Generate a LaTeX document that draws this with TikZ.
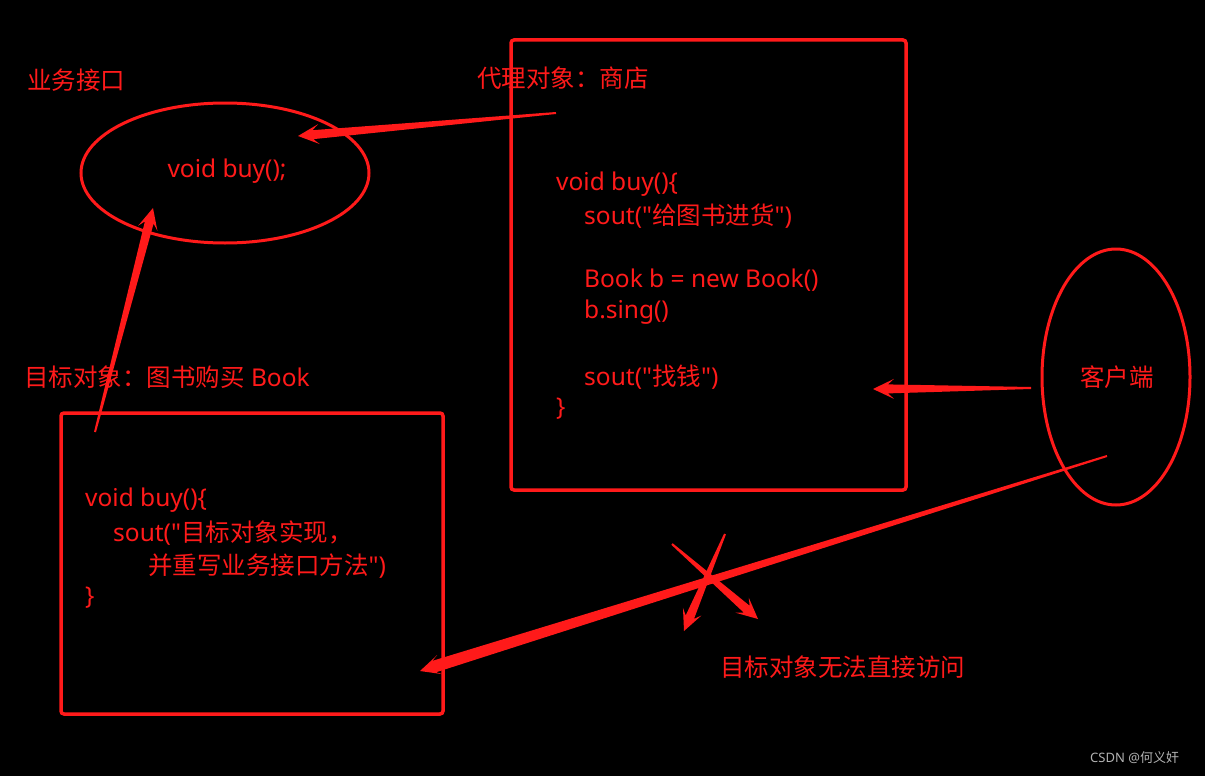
\documentclass[tikz,border=0pt]{standalone}
\usepackage{fontspec}
\setmainfont{Noto Sans}[Ligatures=TeXOff]
\newfontfamily\cjk{Noto Sans CJK SC}[Ligatures=TeXOff]
\newcommand{\zh}[1]{{\cjk #1}}
\usetikzlibrary{calc}
\definecolor{hotred}{RGB}{255,26,26}
\definecolor{markgray}{RGB}{178,178,178}

% tapered arrow: [half width at head] {tail} {tip}
\newcommand{\taperarrow}[3][4.5]{%
	\path ($(#3)!15pt!(#2)$) coordinate (tipn) ($(#3)!21pt!(#2)$) coordinate (tipw);
	\fill[hotred] ($(#2)!1pt!90:(#3)$) -- ($(tipn)!#1pt!90:(#3)$) -- ($(tipw)!10pt!90:(#3)$) -- (#3)
		-- ($(tipw)!10pt!-90:(#3)$) -- ($(tipn)!#1pt!-90:(#3)$) -- ($(#2)!1pt!-90:(#3)$) -- cycle;
}

\tikzset{
	txt/.style={text=hotred,inner sep=0pt,anchor=west,font=\fontsize{24.5}{28}\selectfont},
	shape line/.style={hotred,line width=3pt},
}

\begin{document}
\begin{tikzpicture}[x=1pt,y=-1pt]
	\fill[black] (0,0) rectangle (1205,776);
	\useasboundingbox (0,0) rectangle (1205,776);

	% interface
	\node[txt] (ifacelabel) at (27,80) {\zh{业务接口}};
	\draw[shape line] (225,173) ellipse [x radius=144, y radius=70];
	\node[txt,anchor=center] (ifacebuy) at (227,171) {void buy();};

	% proxy
	\node[txt] (proxylabel) at (477,78) {\zh{代理对象：商店}};
	\node[txt] (p1) at (556,184) {void buy()\{};
	\node[txt] (p2) at (584,216) {sout("\zh{给图书进货}")};
	\node[txt] (p3) at (584,280) {Book b = new Book()};
	\node[txt] (p4) at (584,312) {b.sing()};
	\node[txt] (p5) at (584,377) {sout("\zh{找钱}")};
	\node[txt] (p6) at (556,409) {\}};
	\draw[shape line,line width=3.5pt,rounded corners=3pt] (511,40) rectangle (906,490);

	% target
	\node[txt] (targetlabel) at (24,377) {\zh{目标对象：图书购买} Book};
	\node[txt] (t1) at (85,500) {void buy()\{};
	\node[txt] (t2) at (113,533) {sout("\zh{目标对象实现，}};
	\node[txt] (t3) at (148,566) {\zh{并重写业务接口方法}")};
	\node[txt] (t4) at (85,598) {\}};
	\draw[shape line,line width=3.5pt,rounded corners=3pt] (61,413) rectangle (443,714);

	% client
	\draw[shape line] (1116,377) ellipse [x radius=74, y radius=128];
	\node[txt,anchor=center] (client) at (1117,377) {\zh{客户端}};

	\node[txt] (nodirect) at (720,667) {\zh{目标对象无法直接访问}};
	\node[text=markgray,inner sep=0pt,anchor=west,font=\fontsize{13}{15}\selectfont] (mark) at (1090,758) {CSDN @\zh{何义奸}};

	% arrows
	\coordinate (a1s) at (556,113); \coordinate (a1e) at (298,136);
	\coordinate (a2s) at (95,432);  \coordinate (a2e) at (153,208);
	\coordinate (a3s) at (1031,388); \coordinate (a3e) at (873,389);
	\coordinate (a4s) at (1107,456); \coordinate (a4e) at (420,671);
	\coordinate (x1s) at (672,544); \coordinate (x1e) at (758,619);
	\coordinate (x2s) at (725,534); \coordinate (x2e) at (684,631);
	\taperarrow{a1s}{a1e}
	\taperarrow{a2s}{a2e}
	\taperarrow{a3s}{a3e}
	\taperarrow[6]{a4s}{a4e}
	\taperarrow{x1s}{x1e}
	\taperarrow{x2s}{x2e}
\end{tikzpicture}
\end{document}
